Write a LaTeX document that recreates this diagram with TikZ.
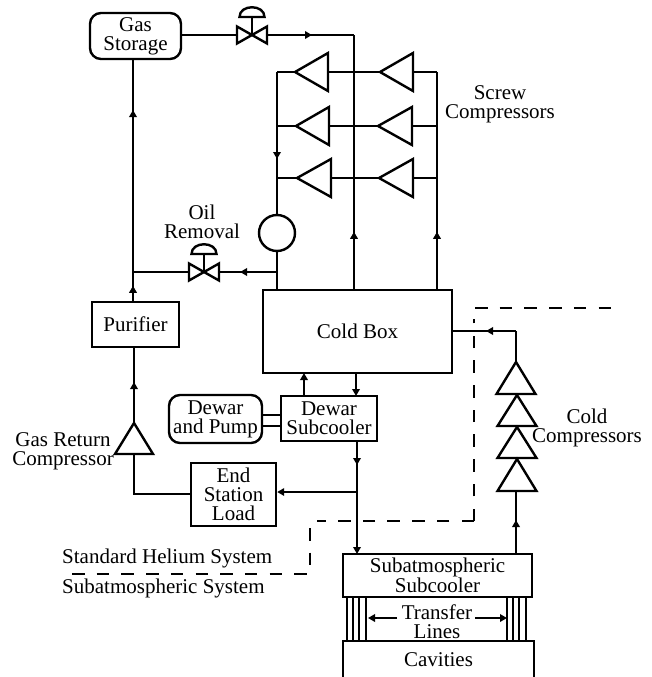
\documentclass[tikz,border=0pt]{standalone}
\usepackage{fontspec}
\setmainfont{Liberation Serif}
\usetikzlibrary{arrows.meta,decorations.markings,calc}
\tikzset{
  x=1pt,y=-1pt,
  every path/.style={line width=2.4pt,line join=miter},
  txt/.style={inner sep=0pt,align=center,font=\fontsize{21}{19}\selectfont},
  boxn/.style={draw,txt,rectangle,anchor=center},
  roundn/.style={boxn,rounded corners=11pt},
  circn/.style={draw,circle,inner sep=0pt},
  dashline/.style={dash pattern=on 12.5pt off 12.2pt},
  flowtip/.tip={Triangle[length=7pt,width=7.5pt]},
  midarrow/.style={postaction={decorate,decoration={markings,mark=at position #1 with {\arrow{flowtip}}}}},
  endarrow/.style={-{flowtip}},
}
\newcommand{\compL}[5]{%
  \coordinate (#1a) at (#2,#3); \coordinate (#1b) at (#4,#3);
  \draw (#2,#3) -- (#4,#3-#5) -- (#4,#3+#5) -- cycle;}
\newcommand{\compU}[5]{%
  \coordinate (#1a) at (#2,#3); \coordinate (#1b) at (#2,#4);
  \draw (#2,#3) -- (#2-#5,#4) -- (#2+#5,#4) -- cycle;}
\newcommand{\valve}[2]{%
  \coordinate (#1) at #2;
  \coordinate (#1l) at ($(#1)+(-16,0)$); \coordinate (#1r) at ($(#1)+(16,0)$);
  \draw ($(#1)+(-15,-8.5)$) -- ($(#1)+(15,8.5)$) -- ($(#1)+(15,-8.5)$) -- ($(#1)+(-15,8.5)$) -- cycle;
  \draw (#1) -- ($(#1)+(0,-18)$);
  \draw ($(#1)+(-12.5,-18)$) -- ($(#1)+(12.5,-18)$) .. controls ($(#1)+(12.5,-31)$) and ($(#1)+(-12.5,-31)$) .. cycle;}
\begin{document}
\begin{tikzpicture}
\useasboundingbox (0,0) rectangle (652,677);
% boxes
\node[roundn,minimum width=91pt,minimum height=46pt] (gas) at (135.5,36) {Gas\\Storage};
\node[boxn,minimum width=87pt,minimum height=45pt] (pur) at (135.5,324.5) {Purifier};
\node[boxn,minimum width=189pt,minimum height=83pt] (cold) at (357.5,331.5) {Cold Box};
\node[roundn,minimum width=93pt,minimum height=48pt] (dewp) at (215.5,419) {Dewar\\and Pump};
\node[boxn,minimum width=96pt,minimum height=45pt] (dews) at (329,418.5) {Dewar\\Subcooler};
\node[boxn,minimum width=85pt,minimum height=63pt] (end) at (233.5,494.5) {End\\Station\\Load};
\node[boxn,minimum width=189pt,minimum height=43pt] (sub) at (437.5,575.5) {Subatmospheric\\Subcooler};
\node[txt,minimum width=189pt,minimum height=35pt] (cav) at (438.5,659.5) {Cavities};
\draw (cav.south west) -- (cav.north west) -- (cav.north east) -- (cav.south east);
\node[circn,minimum size=36pt] (oil) at (277,233) {};
% labels
\node[txt] (lscrew) at (500,104) {Screw\\Compressors};
\node[txt] (loil) at (202,222) {Oil\\Removal};
\node[txt] (lgrc) at (63,451) {Gas Return\\Compressor};
\node[txt] (lcc) at (587,428) {Cold\\Compressors};
\node[txt,anchor=west] (lstd) at (61,558) {Standard Helium System};
\node[txt,anchor=west] (lsubs) at (61,588) {Subatmospheric System};
\node[txt] (ltr) at (437,622) {Transfer\\Lines};
% valves
\valve{v1}{(252,35)}
\valve{v2}{(204,272)}
% compressors
\compL{a1}{295}{72}{328}{19}
\compL{a2}{296}{126}{329}{19}
\compL{a3}{297}{178}{331}{19}
\compL{b1}{380}{72}{413}{19}
\compL{b2}{378}{126}{412}{19}
\compL{b3}{379}{178}{413}{19}
\compU{gr}{134}{423}{454}{19}
\compU{c1}{516}{362}{394}{19.5}
\compU{c2}{517}{395}{426}{19.5}
\compU{c3}{517}{427}{458}{19.5}
\compU{c4}{517}{459}{491}{19.5}
% junctions
\coordinate (jl) at (277,72);
\coordinate (jr) at (437,72);
\coordinate (jm) at (354,35);
\coordinate (jo) at (133,272);
\coordinate (je) at (357,492);
\coordinate (jc) at (516,331);
% connectors
\draw (gas.east |- v1) -- (v1l);
\draw[midarrow=44pt] (v1r) -- (jm);
\draw[midarrow=57pt] (jm |- cold.north) -- (jm);
\draw[midarrow=162pt] (jo) -- (jo |- gas.south);
\draw[midarrow=15pt] (jo |- pur.north) -- (jo);
\draw (v2l) -- (jo);
\draw[midarrow=37pt] (277,272) -- (v2r);
\draw (jl) -- (a1a); \draw (a1b) -- (b1a); \draw (b1b) -- (jr);
\draw (277,126) -- (a2a); \draw (a2b) -- (b2a); \draw (b2b) -- (437,126);
\draw (277,178) -- (a3a); \draw (a3b) -- (b3a); \draw (b3b) -- (437,178);
\draw[midarrow=87pt] (jl) -- (oil.north);
\draw (oil.south) -- (oil.south |- cold.north);
\draw[midarrow=57pt] (jr |- cold.north) -- (jr);
\draw[midarrow=41pt] (134,423) -- (134,347);
\draw (grb) -- (134,494) -- (end.west |- 134,494);
\draw[endarrow] (je) -- (je -| end.east);
\draw[endarrow] (304,396) -- (304,373);
\draw[endarrow] (356,373) -- (356,396);
\draw[midarrow=24pt,endarrow] (357,441) -- (357,554);
\draw (262,415) -- (281,415);
\draw (262,426) -- (281,426);
\draw[midarrow=30pt] (jc) -- (cold.east |- jc);
\draw (c1a) -- (jc);
\draw (c1b) -- (c2a); \draw (c2b) -- (c3a); \draw (c3b) -- (c4a);
\draw[midarrow=34pt] (516,554) -- (516,491);
% transfer lines
\foreach \d in {5,11,17,24,165,171,177,184}
  \draw[line width=1.8pt] ([xshift=\d pt]sub.south west) -- ([xshift=\d pt]sub.south west |- cav.north);
\draw[endarrow] (397,618) -- (368,618);
\draw[endarrow] (475,618) -- (507,618);
% system boundary
\draw[dashline] (475,308) -- (612.5,308);
\draw[dashline] (474,521) -- (474,319);
\draw[dashline] (474,521) -- (317,521);
\draw[dashline] (310,528) -- (310,565);
\draw[dashline] (72,574) -- (307,574);
\end{tikzpicture}
\end{document}
